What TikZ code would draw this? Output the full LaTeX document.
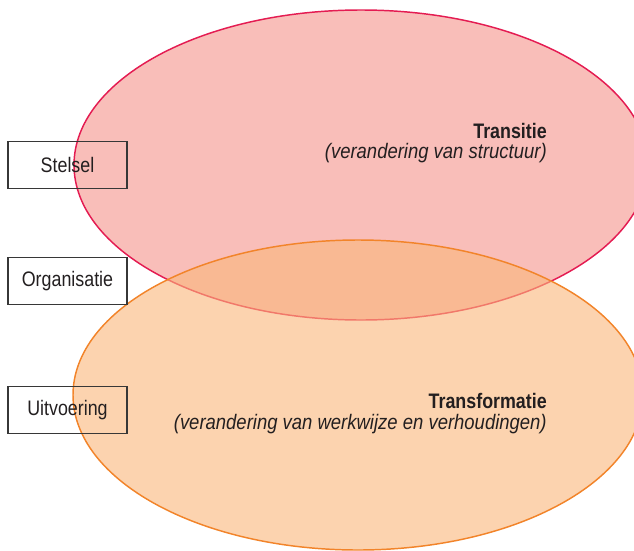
\documentclass[tikz,border=0pt]{standalone}
\usepackage{fontspec}
\setmainfont[FakeStretch=0.85, ItalicFeatures={FakeStretch=0.88}]{Liberation Sans}
\usepackage{xcolor}
\usetikzlibrary{positioning}
\definecolor{transfill}{RGB}{249,190,185}
\definecolor{transline}{RGB}{228,28,82}
\definecolor{formfill}{RGB}{250,182,122}
\definecolor{formline}{RGB}{242,132,42}
\definecolor{boxline}{RGB}{55,55,55}
\definecolor{txt}{RGB}{35,31,32}
\tikzset{
  level/.style={rectangle, draw=boxline, line width=1.1pt, minimum width=89pt,
                minimum height=35pt, inner sep=0pt, text=txt},
  head/.style={font=\fontsize{15.75}{18}\selectfont\bfseries, text=txt, inner sep=0pt},
  sub/.style={font=\fontsize{15.75}{18}\selectfont\itshape, text=txt, inner sep=0pt}
}
\begin{document}
\begin{tikzpicture}[x=0.75pt, y=-0.75pt, font=\fontsize{15.75}{18}\selectfont]
\useasboundingbox (0,0) rectangle (634,550);
\clip (0,0) rectangle (634,550);
% ellipses
\coordinate (ct) at (361,165);
\coordinate (cf) at (358,395);
\fill[transfill] (ct) ellipse [x radius=287, y radius=155];
\draw[transline, line width=1.1pt] (ct) ellipse [x radius=287, y radius=155];
\fill[formfill, opacity=0.6] (cf) ellipse [x radius=285, y radius=155];
\draw[formline, line width=1.1pt] (cf) ellipse [x radius=285, y radius=155];
% levels
\node[level] (stelsel) at (67.5,165) {Stelsel};
\node[level] (organisatie) at (67.5,281) {Organisatie};
\node[level] (uitvoering) at (67.5,410) {Uitvoering};
% labels
\node[head, anchor=base east] (transitie) at (547,138) {Transitie};
\node[sub, anchor=base east] (structuur) at (547,158) {(verandering van structuur)};
\node[head, anchor=base east] (transformatie) at (547,408) {Transformatie};
\node[sub, anchor=base east] (werkwijze) at (547,429) {(verandering van werkwijze en verhoudingen)};
\end{tikzpicture}
\end{document}
